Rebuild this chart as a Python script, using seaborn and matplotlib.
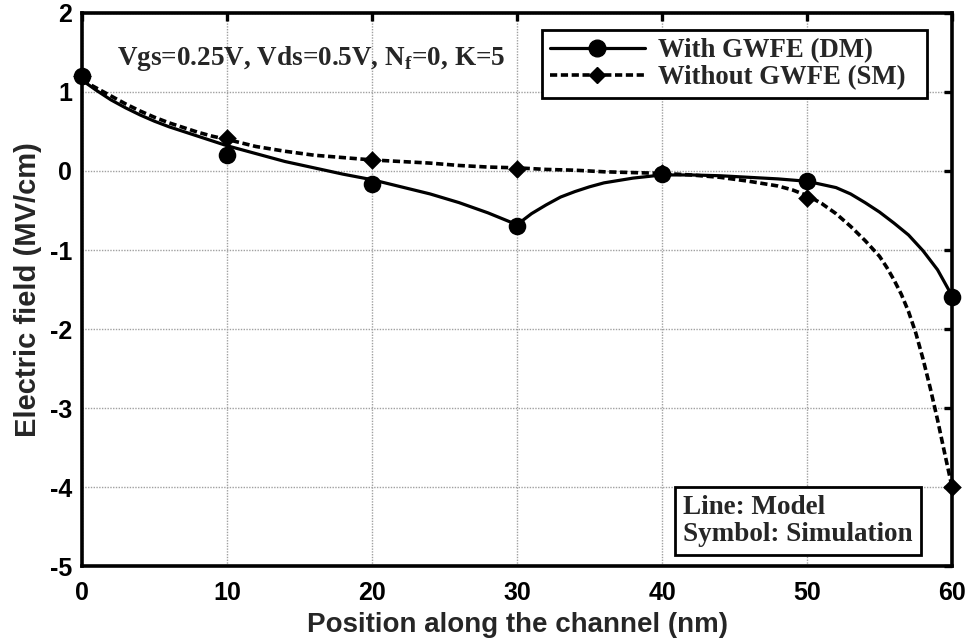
import numpy as np
import pandas as pd
import matplotlib
matplotlib.use("Agg")
import matplotlib.pyplot as plt
from matplotlib.lines import Line2D
import seaborn as sns

# Simulation symbols (nm, MV/cm)
sim_x = [0, 10, 20, 30, 40, 50, 60]
sim_dm = [1.20, 0.20, -0.16, -0.70, -0.04, -0.13, -1.59]
sim_sm = [1.20, 0.42, 0.14, 0.03, -0.03, -0.34, -4.00]

# Model curve with GWFE (dual material)
dm_x = [0, 1, 2, 3, 4, 5, 6, 7, 8, 9, 10, 12, 14, 16, 18, 20, 22, 24, 26, 28, 30,
        31, 32, 33, 34, 35, 36, 38, 40, 42, 44, 46, 48, 50, 52, 53, 54, 55, 56,
        57, 58, 59, 60]
dm_y = [1.15, 1.02, 0.90, 0.80, 0.71, 0.63, 0.56, 0.50, 0.44, 0.38, 0.32, 0.22,
        0.12, 0.04, -0.04, -0.11, -0.20, -0.29, -0.40, -0.53, -0.68,
        -0.54, -0.43, -0.33, -0.26, -0.20, -0.15, -0.09, -0.05, -0.05, -0.06,
        -0.08, -0.10, -0.13, -0.21, -0.29, -0.40, -0.52, -0.66,
        -0.81, -1.01, -1.25, -1.58]

# Model curve without GWFE (single material)
sm_x = [0, 1, 2, 3, 4, 5, 6, 7, 8, 9, 10, 12, 14, 16, 18, 20, 22, 24, 26, 28, 30,
        32, 34, 36, 38, 40, 42, 44, 46, 48, 49, 50, 51, 52, 53, 54, 55, 55.5, 56,
        56.5, 57, 57.5, 58, 58.5, 59, 59.5, 60]
sm_y = [1.15, 1.05, 0.95, 0.85, 0.76, 0.68, 0.61, 0.55, 0.49, 0.44, 0.40, 0.31,
        0.25, 0.20, 0.17, 0.14, 0.12, 0.10, 0.07, 0.05, 0.04, 0.02, 0.01, -0.01,
        -0.02, -0.03, -0.05, -0.08, -0.13, -0.19, -0.24, -0.31, -0.41, -0.54,
        -0.70, -0.88, -1.08, -1.22, -1.38, -1.56, -1.78, -2.05, -2.38, -2.75,
        -3.15, -3.58, -4.00]

x_ticks = [0, 10, 20, 30, 40, 50, 60]
y_ticks = [2, 1, 0, -1, -2, -3, -4, -5]
legend_labels = ["With GWFE (DM)", "Without GWFE (SM)\u2002"]

sns.set_theme(style="white")
plt.rcParams["font.family"] = ["Liberation Sans", "DejaVu Sans"]
plt.rcParams["axes.unicode_minus"] = False
plt.rcParams["mathtext.fontset"] = "custom"
plt.rcParams["mathtext.rm"] = "Liberation Serif:bold"
plt.rcParams["mathtext.bf"] = "Liberation Serif:bold"

fig = plt.figure(figsize=(9.69, 6.40), dpi=100)
ax = fig.add_axes([0.0846, 0.1156, 0.8979, 0.8641])

dm_df = pd.DataFrame({"x": dm_x, "y": dm_y})
sm_df = pd.DataFrame({"x": sm_x, "y": sm_y})
sim_df = pd.DataFrame({"x": sim_x, "dm": sim_dm, "sm": sim_sm})

dash = (0, (2.0, 1.0))
sns.lineplot(data=dm_df, x="x", y="y", ax=ax, color="black", lw=2.3,
             sort=False, estimator=None)
sns.lineplot(data=sm_df, x="x", y="y", ax=ax, color="black", lw=2.6,
             sort=False, estimator=None, linestyle=dash)
sns.scatterplot(data=sim_df, x="x", y="dm", ax=ax, color="black", marker="o",
                s=160, edgecolor="black", linewidth=0, zorder=5, clip_on=False)
sns.scatterplot(data=sim_df, x="x", y="sm", ax=ax, color="black", marker="D",
                s=90, edgecolor="black", linewidth=0, zorder=5, clip_on=False)

ax.set_xlim(0, 60)
ax.set_ylim(-5, 2)
ax.set_xticks(x_ticks)
ax.set_yticks(y_ticks)
ax.grid(True, color="#a0a0a0", linestyle=(0, (1, 1)), linewidth=1.0)
ax.tick_params(direction="in", length=6, width=2.4, top=True, right=True,
               labelsize=18, colors="black")
ax.tick_params(axis="x", pad=11)
ax.tick_params(axis="y", pad=7)
for lab in ax.get_xticklabels() + ax.get_yticklabels():
    lab.set_fontweight("bold")
for sp in ax.spines.values():
    sp.set_visible(True)
    sp.set_color("black")
    sp.set_linewidth(2.6)

ax.set_xlabel("Position along the channel (nm)", fontsize=20, fontweight="bold",
              labelpad=5)
ax.set_ylabel("Electric field (MV/cm)", fontsize=21, fontweight="bold",
              labelpad=6)

serif = ["Liberation Serif", "DejaVu Serif"]
ax.text(0.040, 0.906, r"Vgs=0.25V, Vds=0.5V, N$_\mathrm{f}$=0, K=5",
        transform=ax.transAxes, fontsize=19.5, fontweight="bold", family=serif,
        ha="left", va="baseline")

handles = [
    Line2D([], [], color="black", lw=2.3, marker="o", markersize=12),
    Line2D([], [], color="black", lw=2.6, linestyle=dash, marker="D",
           markersize=8),
]
leg = ax.legend(handles, legend_labels,
                loc="upper right", bbox_to_anchor=(0.971, 0.969),
                prop={"family": serif, "weight": "bold", "size": 19.3},
                frameon=True, fancybox=False, edgecolor="black",
                framealpha=1, handlelength=3.55, handletextpad=0.48,
                borderpad=0.3, labelspacing=0.08, borderaxespad=0)
leg.get_frame().set_linewidth(2.0)

ax.text(0.691, 0.035, "Line: Model\nSymbol: Simulation",
        transform=ax.transAxes, fontsize=19.5, fontweight="bold", family=serif,
        ha="left", va="bottom", linespacing=1.1,
        bbox=dict(boxstyle="square,pad=0.3", facecolor="white",
                  edgecolor="black", linewidth=2.0))

fig.savefig("out.png", dpi=100)
